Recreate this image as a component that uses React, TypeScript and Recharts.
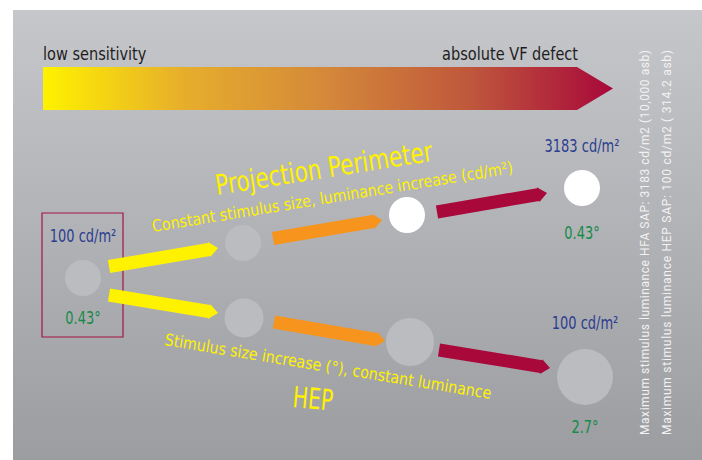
import { ScatterChart, Scatter, XAxis, YAxis, ReferenceArea, ReferenceLine } from 'recharts';

// diagram units: 1 unit = 1 px of the 702x460 reference
const W = 702;
const H = 460;

// stimuli (circles): x = stage position, y = track position, r = stimulus size
const startStimulus = [{ x: 83, y: 278, r: 18, lum: 'dim' }];
const projectionStimuli = [
  { x: 243, y: 243, r: 18, lum: 'dim' },
  { x: 407, y: 215, r: 18, lum: 'bright' },
  { x: 582, y: 188, r: 18, lum: 'bright' },
];
const hepStimuli = [
  { x: 244, y: 318, r: 19.5, lum: 'dim' },
  { x: 410, y: 342, r: 24, lum: 'dim' },
  { x: 585, y: 377, r: 28, lum: 'dim' },
];

// arrows between stages: [start, tip], stage decides colour
const arrows = [
  { stage: 1, from: { x: 109, y: 266.5 }, to: { x: 218, y: 248 } },
  { stage: 2, from: { x: 273, y: 238.5 }, to: { x: 382, y: 220 } },
  { stage: 3, from: { x: 437, y: 212 }, to: { x: 547, y: 193 } },
  { stage: 1, from: { x: 109, y: 295 }, to: { x: 218, y: 313 } },
  { stage: 2, from: { x: 274, y: 322 }, to: { x: 385, y: 341 } },
  { stage: 3, from: { x: 439, y: 350 }, to: { x: 550, y: 368 } },
];

// value labels
const luminanceLabels = [
  { x: 83, y: 242, text: '100 cd/m²' },
  { x: 582, y: 152, text: '3183 cd/m²' },
  { x: 585, y: 329, text: '100 cd/m²' },
];
const sizeLabels = [
  { x: 83, y: 324, text: '0.43°' },
  { x: 582, y: 239, text: '0.43°' },
  { x: 585, y: 433, text: '2.7°' },
];

// scale bar and captions
const scaleBar = { x1: 43, x2: 613, y1: 67, y2: 110 };
const scaleLabels = [
  { x: 43, y: 60, text: 'low sensitivity', anchor: 'start' },
  { x: 578, y: 60, text: 'absolute VF defect', anchor: 'end' },
];
const titles = [
  { x: 217, y: 195, text: 'Projection Perimeter', angle: -9, size: 28, squeeze: 0.86 },
  { x: 153, y: 232, text: 'Constant stimulus size, luminance increase (cd/m²)', angle: -9.3, size: 16.5, squeeze: 0.96 },
  { x: 164, y: 345, text: 'Stimulus size increase (°), constant luminance', angle: 9.4, size: 16.5, squeeze: 0.96 },
  { x: 292, y: 407, text: 'HEP', angle: 5, size: 29, squeeze: 0.78 },
];
const sideNotes = [
  { x: 649, y: 435, text: 'Maximum stimulus luminance HFA SAP: 3183 cd/m2 (10,000 asb)' },
  { x: 671, y: 435, text: 'Maximum stimulus luminance HEP SAP:  100 cd/m2 ( 314.2 asb)' },
];
const startBox = { x1: 42, x2: 123, y1: 213, y2: 337 };

const COND = "'DejaVu Sans Condensed', 'Liberation Sans Narrow', sans-serif";
const stageColor: Record<number, string> = { 1: '#fff200', 2: '#f7941d', 3: '#a8083a' };
const lumColor: Record<string, string> = { dim: '#bbbcc0', bright: '#ffffff' };

const squeezeAt = (cx: number, cy: number, s: number) =>
  `translate(${cx}, ${cy}) scale(${s}, 1) translate(${-cx}, ${-cy})`;

const Arrow = (props: any) => {
  const { x1, y1, x2, y2, fill } = props;
  const dx = x2 - x1;
  const dy = y2 - y1;
  const len = Math.hypot(dx, dy);
  const ux = dx / len;
  const uy = dy / len;
  const nx = -uy;
  const ny = ux;
  const h = 6.5;
  const head = 9;
  const bx = x2 - ux * head;
  const by = y2 - uy * head;
  const pts = [
    [x1 + nx * h, y1 + ny * h],
    [bx + nx * h, by + ny * h],
    [bx + nx * (h + 1), by + ny * (h + 1)],
    [x2, y2],
    [bx - nx * (h + 1), by - ny * (h + 1)],
    [bx - nx * h, by - ny * h],
    [x1 - nx * h, y1 - ny * h],
  ];
  return <polygon points={pts.map((p) => p.join(',')).join(' ')} fill={fill} />;
};

const GradientBar = (props: any) => {
  const { x, y, width, height } = props;
  const head = 36;
  const xe = x + width - head;
  const d = `M${x},${y} L${xe},${y} L${x + width},${y + height / 2} L${xe},${y + height} L${x},${y + height} Z`;
  return (
    <g>
      <defs>
        <linearGradient id="sens" x1="0" y1="0" x2="1" y2="0">
          <stop offset="0%" stopColor="#fff200" />
          <stop offset="25%" stopColor="#e6ad2c" />
          <stop offset="50%" stopColor="#d4883a" />
          <stop offset="75%" stopColor="#bf573c" />
          <stop offset="100%" stopColor="#a8083a" />
        </linearGradient>
      </defs>
      <path d={d} fill="url(#sens)" />
    </g>
  );
};

const Stimulus = (props: any) => {
  const { cx, cy, payload } = props;
  return <circle cx={cx} cy={cy} r={payload.r} fill={lumColor[payload.lum]} />;
};

const makeText = (color: string, size: number) => (props: any) => {
  const { cx, cy, payload } = props;
  return (
    <text
      x={cx}
      y={cy}
      textAnchor="middle"
      fill={color}
      fontSize={size}
      fontFamily={COND}
      transform={squeezeAt(cx, cy, 0.85)}
    >
      {payload.text}
    </text>
  );
};

const ScaleText = (props: any) => {
  const { cx, cy, payload } = props;
  return (
    <text
      x={cx}
      y={cy}
      textAnchor={payload.anchor}
      fill="#1e1e1e"
      fontSize={17}
      fontFamily={COND}
      transform={squeezeAt(cx, cy, 0.95)}
    >
      {payload.text}
    </text>
  );
};

const TitleText = (props: any) => {
  const { cx, cy, payload } = props;
  return (
    <text
      x={cx}
      y={cy}
      fill="#fff200"
      fontSize={payload.size}
      fontFamily={COND}
      transform={`rotate(${payload.angle}, ${cx}, ${cy}) ${squeezeAt(cx, cy, payload.squeeze)}`}
    >
      {payload.text}
    </text>
  );
};

const SideText = (props: any) => {
  const { cx, cy, payload } = props;
  return (
    <text
      x={cx}
      y={cy}
      fill="#f2f2f2"
      fontSize={12}
      fontFamily="Roboto, sans-serif"
      textLength={385}
      lengthAdjust="spacing"
      transform={`rotate(-90, ${cx}, ${cy})`}
    >
      {payload.text}
    </text>
  );
};

export default function App() {
  return (
    <div style={{ position: 'fixed', left: 0, top: 0, width: W, height: H, background: '#fff' }}>
      <div
        style={{
          position: 'absolute',
          left: 13,
          top: 10,
          width: W - 13,
          height: H - 10,
          background: 'linear-gradient(180deg, #c6c7ca 0%, #b3b4b8 45%, #9c9da1 100%)',
        }}
      />
      <div style={{ position: 'absolute', left: 0, top: 0 }}>
        <ScatterChart width={W} height={H} margin={{ top: 0, right: 0, bottom: 0, left: 0 }}>
          <XAxis type="number" dataKey="x" domain={[0, W]} hide />
          <YAxis type="number" dataKey="y" domain={[0, H]} reversed hide />
          <ReferenceArea {...scaleBar} shape={GradientBar} />
          <ReferenceArea {...startBox} fill="none" stroke="#a4153f" strokeWidth={1.2} fillOpacity={0} strokeOpacity={1} />
          {arrows.map((a, i) => (
            <ReferenceLine
              key={i}
              segment={[a.from, a.to]}
              shape={(p: any) => <Arrow {...p} fill={stageColor[a.stage]} />}
            />
          ))}
          <Scatter data={startStimulus} shape={Stimulus} isAnimationActive={false} />
          <Scatter data={projectionStimuli} shape={Stimulus} isAnimationActive={false} />
          <Scatter data={hepStimuli} shape={Stimulus} isAnimationActive={false} />
          <Scatter data={luminanceLabels} shape={makeText('#2b3d8f', 17)} isAnimationActive={false} />
          <Scatter data={sizeLabels} shape={makeText('#168a48', 17)} isAnimationActive={false} />
          <Scatter data={scaleLabels} shape={ScaleText} isAnimationActive={false} />
          <Scatter data={titles} shape={TitleText} isAnimationActive={false} />
          <Scatter data={sideNotes} shape={SideText} isAnimationActive={false} />
        </ScatterChart>
      </div>
    </div>
  );
}
